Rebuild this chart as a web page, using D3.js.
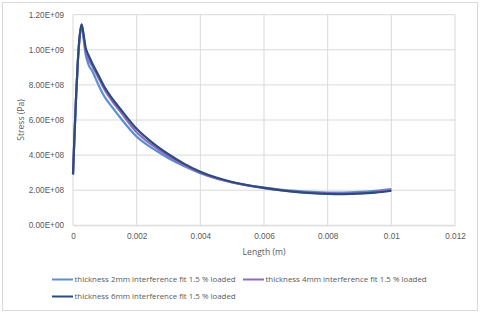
<!DOCTYPE html>
<html>
<head>
<meta charset="utf-8">
<script src="https://cdn.jsdelivr.net/npm/d3@7"></script>
<style>
  body { margin: 0; background: #fff; }
  svg { font-family: "Open Sans", "Liberation Sans", sans-serif; }
</style>
</head>
<body>
<svg id="chart" width="480" height="315"></svg>
<script>
// data (stress in Pa, length in m)
const lengths = [0, 0.00005, 0.0001, 0.00015, 0.0002, 0.00027, 0.00033, 0.0004, 0.00046, 0.0005, 0.0006, 0.0008,
  0.001, 0.0012, 0.0015, 0.002, 0.0025, 0.003, 0.0035, 0.004, 0.0045, 0.005, 0.0055, 0.006,
  0.0065, 0.007, 0.0075, 0.008, 0.0085, 0.009, 0.0095, 0.01];

const stress2mm = [2.9, 5.2, 7.4, 9.2, 10.5, 11.4, 10.7, 9.7, 9.3, 9.1, 8.8, 8.0,
  7.3, 6.8, 6.1, 5.05, 4.38, 3.82, 3.36, 2.97, 2.67, 2.45, 2.28, 2.15,
  2.04, 1.96, 1.9, 1.87, 1.87, 1.9, 1.97, 2.07];

const stress4mm = [2.9, 5.25, 7.45, 9.25, 10.55, 11.43, 10.8, 9.9, 9.6, 9.4, 9.1, 8.4,
  7.7, 7.15, 6.45, 5.3, 4.55, 3.93, 3.42, 3.0, 2.68, 2.44, 2.26, 2.12,
  2.0, 1.91, 1.85, 1.82, 1.81, 1.84, 1.9, 2.0];

const stress6mm = [2.9, 5.3, 7.5, 9.3, 10.6, 11.45, 10.9, 10.1, 9.8, 9.65, 9.25, 8.55,
  7.85, 7.3, 6.6, 5.5, 4.7, 4.05, 3.5, 3.05, 2.72, 2.47, 2.28, 2.13,
  2.0, 1.9, 1.83, 1.79, 1.78, 1.8, 1.86, 1.97];

const seriesNames = [
  "thickness 2mm interference fit 1.5 % loaded",
  "thickness 4mm interference fit 1.5 % loaded",
  "thickness 6mm interference fit 1.5 % loaded"
];
const xTicks = [0, 0.002, 0.004, 0.006, 0.008, 0.01, 0.012];
const yTicks = [0, 2e8, 4e8, 6e8, 8e8, 1e9, 1.2e9];

const colors = ["#5b8fd3", "#8c6cc0", "#2d4a7c"];

const svg = d3.select("#chart");

// outer chart border
svg.append("rect")
  .attr("x", 2.5).attr("y", 2.5)
  .attr("width", 475).attr("height", 308)
  .attr("fill", "#fff")
  .attr("stroke", "#d9d9d9");

const plotLeft = 73, plotRight = 455, plotTop = 14.7, plotBottom = 225.3;

const x = d3.scaleLinear().domain([0, 0.012]).range([plotLeft, plotRight]);
const y = d3.scaleLinear().domain([0, 1.2e9]).range([plotBottom, plotTop]);

// gridlines
svg.append("g")
  .selectAll("line")
  .data(yTicks)
  .enter()
  .append("line")
  .attr("x1", plotLeft).attr("x2", plotRight)
  .attr("y1", d => y(d)).attr("y2", d => y(d))
  .attr("stroke", "#d9d9d9").attr("stroke-width", 1);

svg.append("g")
  .selectAll("line")
  .data(xTicks)
  .enter()
  .append("line")
  .attr("x1", d => x(d)).attr("x2", d => x(d))
  .attr("y1", plotTop).attr("y2", plotBottom)
  .attr("stroke", "#d9d9d9").attr("stroke-width", 1);

// axes (labels only, Excel style)
const fmtY = d => {
  const e = d === 0 ? 0 : Math.floor(Math.log10(d));
  const m = d / Math.pow(10, e);
  return m.toFixed(2) + "E+" + String(e).padStart(2, "0");
};

const yAxis = svg.append("g")
  .attr("transform", "translate(" + plotLeft + ",0)")
  .call(d3.axisLeft(y).tickValues(yTicks).tickFormat(fmtY).tickSize(0).tickPadding(9));
yAxis.select(".domain").remove();
yAxis.selectAll("text").attr("fill", "#595959").style("font-size", "8.2px");

const xAxis = svg.append("g")
  .attr("transform", "translate(0," + plotBottom + ")")
  .call(d3.axisBottom(x).tickValues(xTicks).tickFormat(d => String(+d.toFixed(3))).tickSize(0).tickPadding(8));
xAxis.select(".domain").attr("stroke", "#d9d9d9");
xAxis.selectAll("text").attr("fill", "#595959").style("font-size", "8.2px");

// axis titles
svg.append("text")
  .attr("transform", "translate(24," + ((plotTop + plotBottom) / 2) + ") rotate(-90)")
  .attr("text-anchor", "middle")
  .attr("fill", "#595959")
  .style("font-size", "8.6px")
  .text("Stress (Pa)");

svg.append("text")
  .attr("x", (plotLeft + plotRight) / 2)
  .attr("y", 254.5)
  .attr("text-anchor", "middle")
  .attr("fill", "#595959")
  .style("font-size", "8.6px")
  .text("Length (m)");

// lines
const allSeries = [stress2mm, stress4mm, stress6mm];
const line = d3.line()
  .x((d, i) => x(lengths[i]))
  .y(d => y(d * 1e8))
  .curve(d3.curveMonotoneX);

allSeries.forEach((s, k) => {
  svg.append("path")
    .datum(s)
    .attr("d", line)
    .attr("fill", "none")
    .attr("stroke", colors[k])
    .attr("stroke-width", 2.2)
    .attr("stroke-linejoin", "round");
});

// legend
const legendPos = [[52, 279.5], [243, 279.5], [52, 296.5]];
seriesNames.forEach((name, k) => {
  const g = svg.append("g").attr("transform", "translate(" + legendPos[k][0] + "," + legendPos[k][1] + ")");
  g.append("line")
    .attr("x1", 0).attr("x2", 21)
    .attr("stroke", colors[k]).attr("stroke-width", 2);
  g.append("text")
    .attr("x", 22.5).attr("y", 2.8)
    .attr("fill", "#595959")
    .style("font-size", "7.9px")
    .text(name);
});
</script>
</body>
</html>
